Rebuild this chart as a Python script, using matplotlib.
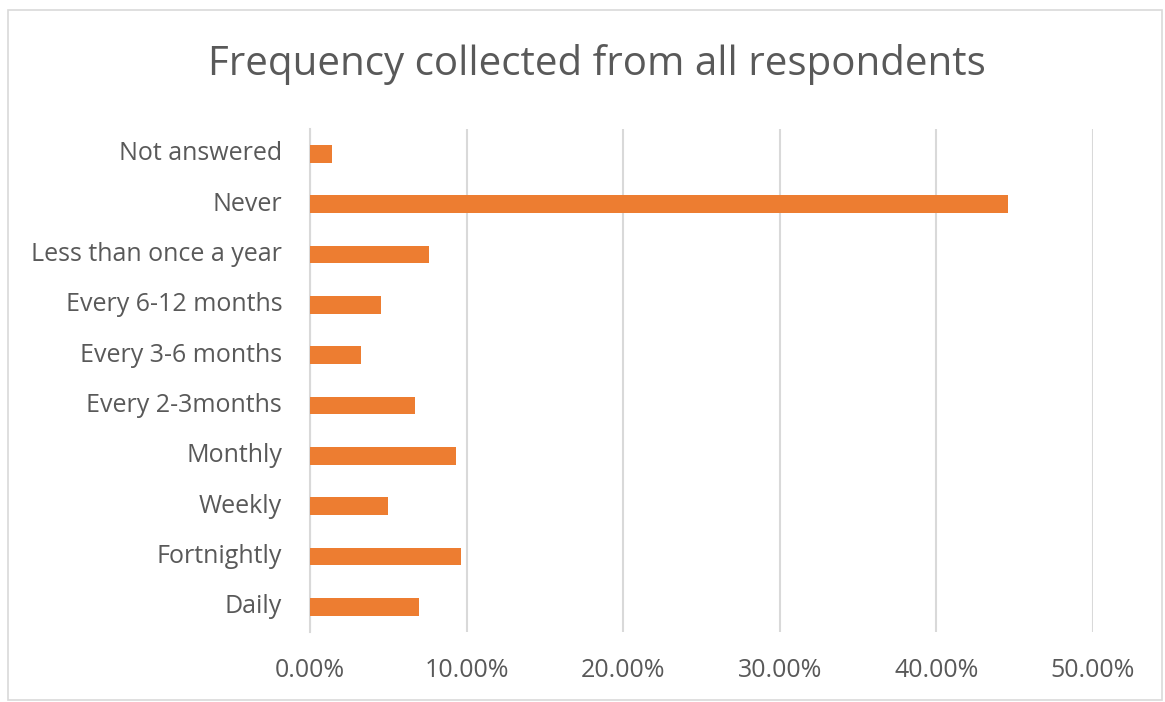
import matplotlib
matplotlib.use("Agg")
import matplotlib.pyplot as plt
from matplotlib.patches import Rectangle
from matplotlib.ticker import PercentFormatter
from matplotlib.transforms import ScaledTranslation

categories = ["Daily", "Fortnightly", "Weekly", "Monthly", "Every 2-3months",
              "Every 3-6 months", "Every 6-12 months", "Less than once a year",
              "Never", "Not answered"]
shares = [6.97, 9.63, 4.97, 9.31, 6.68, 3.27, 4.51, 7.61, 44.58, 1.42]
x_ticks = [0, 10, 20, 30, 40, 50]

plt.rcParams["font.family"] = ["Open Sans", "DejaVu Sans"]

fig = plt.figure(figsize=(11.65, 7.02), dpi=100)
ax = fig.add_axes([0.2661, 0.0997, 0.6721, 0.7171])

# chart border
fig.patches.append(Rectangle((8 / 1165, 2 / 702), 1154 / 1165, 690 / 702,
                             transform=fig.transFigure, fill=False,
                             edgecolor="#D9D9D9", linewidth=1.2))

ax.barh(range(len(categories)), shares, height=0.355, color="#ED7D31", zorder=3)

ax.set_xlim(0, 50)
ax.set_ylim(-0.5, len(categories) - 0.5)
ax.set_xticks(x_ticks)
ax.xaxis.set_major_formatter(PercentFormatter(decimals=2))
ax.set_yticks(range(len(categories)))
ax.set_yticklabels(categories)

ax.grid(axis="x", color="#D9D9D9", linewidth=1.5, zorder=0)
for side in ["top", "right", "bottom"]:
    ax.spines[side].set_visible(False)
ax.spines["left"].set_color("#D9D9D9")
ax.spines["left"].set_linewidth(1.5)
ax.tick_params(axis="both", length=0, colors="#595959")
ax.tick_params(axis="x", pad=19, labelsize=18)
ax.tick_params(axis="y", pad=20, labelsize=18)

# labels sit a few pixels above the bar centres in the original
shift = ScaledTranslation(0, 3 / 100, fig.dpi_scale_trans)
for lbl in ax.get_yticklabels():
    lbl.set_transform(lbl.get_transform() + shift)

fig.text(0.512, 0.908, "Frequency collected from all respondents",
         ha="center", va="center", fontsize=29, color="#595959")

fig.savefig("out.png", dpi=100)
